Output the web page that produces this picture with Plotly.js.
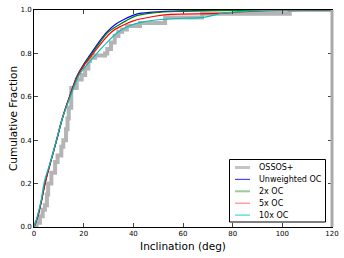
<!DOCTYPE html>
<html><head><meta charset="utf-8">
<script src="https://cdn.plot.ly/plotly-3.0.1.min.js"></script>
<style>html,body{margin:0;padding:0;background:#fff}#c{width:344px;height:258px}</style>
</head><body><div id="c"></div>
<script>
var seriesNames = ["OSSOS+", "Unweighted OC", "2x OC", "5x OC", "10x OC"];
var ossosInc = [0, 1, 2.4, 3.5, 4.4, 5.2, 5.7, 7, 8.5, 9.5, 11, 11.8, 12.9, 13.5, 14, 15, 17.2, 19.2, 20.6, 21.9, 22.6, 24.6, 28.6, 29.5, 31, 32.5, 34, 35.5, 37.4, 42.7, 52.8, 67.7, 103, 120];
var ossosFrac = [0, 0.02, 0.05, 0.08, 0.1, 0.15, 0.2, 0.25, 0.3, 0.33, 0.37, 0.4, 0.45, 0.5, 0.55, 0.64, 0.68, 0.70, 0.73, 0.765, 0.78, 0.79, 0.80, 0.82, 0.85, 0.88, 0.90, 0.91, 0.926, 0.94, 0.965, 0.983, 1.0, 1.0];
var unwInc = [0, 1, 2, 3, 4.4, 6.7, 9.1, 11.4, 14.3, 17.5, 20, 23, 26, 29.5, 33, 36, 41, 48, 60, 80, 120];
var unwFrac = [0, 0.03, 0.07, 0.12, 0.2, 0.3, 0.4, 0.5, 0.6, 0.7, 0.75, 0.8, 0.85, 0.9, 0.935, 0.955, 0.98, 0.99, 0.996, 0.999, 1.0];
var x2Inc = [0, 1, 2, 3, 4.4, 6.7, 9.1, 11.4, 14.3, 17.6, 20.2, 23.4, 26.5, 30, 34, 37, 41, 48, 60, 80, 120];
var x2Frac = [0, 0.03, 0.07, 0.12, 0.2, 0.3, 0.4, 0.5, 0.6, 0.7, 0.75, 0.8, 0.85, 0.9, 0.93, 0.95, 0.973, 0.987, 0.994, 0.998, 1.0];
var x5Inc = [0, 1, 2, 3, 4.4, 6.7, 9.1, 11.4, 14.4, 17.8, 20.5, 23.9, 27.3, 31.3, 35, 40, 48, 55, 75, 85, 120];
var x5Frac = [0, 0.03, 0.07, 0.12, 0.2, 0.3, 0.4, 0.5, 0.6, 0.7, 0.75, 0.8, 0.85, 0.9, 0.925, 0.95, 0.97, 0.98, 0.984, 0.992, 1.0];
var x10Inc = [0, 1, 2, 3, 4.2, 6.6, 9.0, 11.4, 14.6, 18.2, 21.5, 25.3, 29.3, 34, 38, 44, 50, 60, 68, 76, 86, 120];
var x10Frac = [0, 0.035, 0.08, 0.13, 0.21, 0.3, 0.4, 0.5, 0.6, 0.7, 0.75, 0.8, 0.85, 0.9, 0.925, 0.945, 0.955, 0.962, 0.966, 0.985, 0.995, 1.0];
var xTicks = [0, 20, 40, 60, 80, 100, 120];
var yTicks = [0.0, 0.2, 0.4, 0.6, 0.8, 1.0];

var lineColors = ["#b4b4b4", "#0000ff", "#008000", "#ff0000", "#00bfbf"];
var legendColors = ["#c4c4c4", "#4848f0", "#98cc98", "#ff8a8a", "#40d4d4"];
var lineWidths = [4, 1.2, 1.2, 1.2, 1.2];
var legendWidths = [3, 1.2, 2, 1.2, 1.2];
var xs = [ossosInc, unwInc, x2Inc, x5Inc, x10Inc];
var ys = [ossosFrac, unwFrac, x2Frac, x5Frac, x10Frac];

var traces = xs.map(function(x, i){
  return {x: x, y: ys[i], name: seriesNames[i], mode: "lines", showlegend: false,
    line: {shape: i === 0 ? "hv" : "spline", color: lineColors[i], width: lineWidths[i]}};
});

var W = 344, H = 258, mL = 34, mR = 12, mT = 10, mB = 31;
var pw = W - mL - mR, ph = H - mT - mB;
function px2x(p){ return (p - mL) / pw; }
function px2y(p){ return (H - mB - p) / ph; }

var shapes = [{type: "line", xref: "paper", yref: "paper", x0: 1, x1: 1, y0: 0, y1: 1, line: {color: "#aaaaaa", width: 3}}];
var annotations = [];
shapes.push({type: "rect", xref: "paper", yref: "paper", x0: px2x(229.5), x1: px2x(325.5), y0: px2y(222), y1: px2y(159.5),
  fillcolor: "#fff", line: {color: "#000", width: 1}});
seriesNames.forEach(function(n, i){
  var yp = 167.5 + i * 11.9;
  shapes.push({type: "line", xref: "paper", yref: "paper", x0: px2x(235), x1: px2x(250), y0: px2y(yp), y1: px2y(yp),
    line: {color: legendColors[i], width: legendWidths[i]}});
  annotations.push({xref: "paper", yref: "paper", x: px2x(257), y: px2y(yp), xanchor: "left", yanchor: "middle",
    text: n, showarrow: false, font: {size: 8, color: "#000"}});
});

var layout = {
  width: W, height: H,
  margin: {l: mL, r: mR, t: mT, b: mB},
  paper_bgcolor: "#fff", plot_bgcolor: "#fff",
  font: {family: "DejaVu Sans", size: 7, color: "#000"},
  showlegend: false,
  xaxis: {range: [0, 120], tickvals: xTicks, ticktext: xTicks.map(String), ticks: "inside", ticklen: 4,
    showgrid: false, zeroline: false, showline: true, linecolor: "#000", linewidth: 1, mirror: "ticks",
    title: {text: "Inclination (deg)", font: {size: 10.5}, standoff: 5}},
  yaxis: {range: [0, 1], tickvals: yTicks, ticktext: yTicks.map(function(v){return v.toFixed(1);}), ticks: "inside", ticklen: 4,
    showgrid: false, zeroline: false, showline: true, linecolor: "#000", linewidth: 1, mirror: "ticks",
    title: {text: "Cumulative Fraction", font: {size: 10.5}, standoff: 0}},
  shapes: shapes,
  annotations: annotations
};
Plotly.newPlot("c", traces, layout, {displayModeBar: false, staticPlot: true});
</script></body></html>
